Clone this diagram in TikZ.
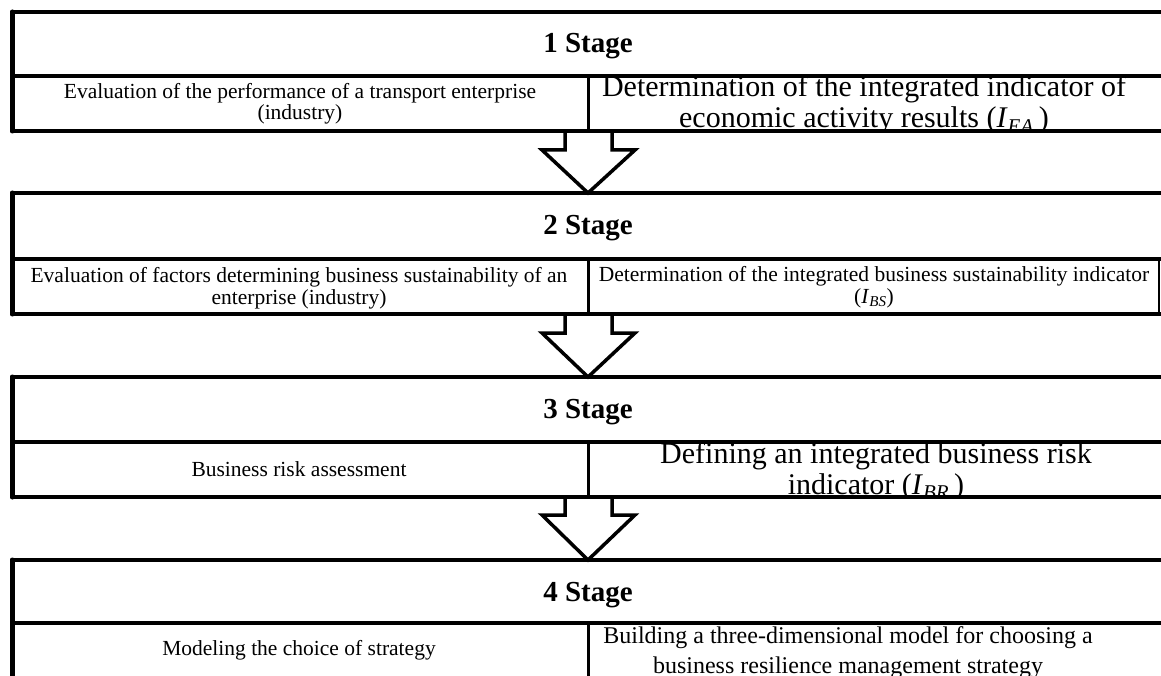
\documentclass[tikz,border=0pt]{standalone}
\usepackage{fontspec}
\setmainfont{Liberation Serif}
\newcommand{\ind}[1]{\textit{I}\textsubscript{\textit{#1}}}
\begin{document}
\begin{tikzpicture}[x=1pt,y=-1pt,
  frame/.style={line width=3.5pt, line join=round, line cap=round},
  leftedge/.style={line width=5pt, line cap=round},
  divider/.style={line width=3pt},
  thinedge/.style={line width=1.5pt},
  arrowshape/.style={line width=3.5pt, line join=miter},
  stagetitle/.style={anchor=base, inner sep=0pt, font=\fontsize{29}{30}\selectfont\bfseries},
  smalltext/.style={anchor=base, inner sep=0pt, font=\fontsize{21.5}{22}\selectfont},
  bigtext/.style={anchor=base, inner sep=0pt, font=\fontsize{30}{31}\selectfont},
  midtext/.style={anchor=base, inner sep=0pt, font=\fontsize{24}{25}\selectfont}]

\useasboundingbox (0,0) rectangle (1161,676);
\fill[white] (0,0) rectangle (1161,676);
\clip (0,0) rectangle (1161,676);

% ---------- Stage 1 ----------
\node[stagetitle] (t1) at (588,53) {1 Stage};
\node[smalltext] (a1) at (300,99) {Evaluation of the performance of a transport enterprise};
\node[smalltext] (a2) at (300,120) {(industry)};
\begin{scope}
  \clip (588,76) rectangle (1161,131);
  \node[bigtext] (b1) at (864,97) {Determination of the integrated indicator of};
  \node[bigtext] (b2) at (864,128) {economic activity results (\ind{EA}\,)};
\end{scope}
\draw[frame] (1170,12) -- (12,12);
\draw[frame] (12,76) -- (1170,76);
\draw[frame] (12,131) -- (1170,131);
\draw[leftedge] (12,12) -- (12,131);
\draw[divider] (588,76) -- (588,131);

% ---------- Stage 2 ----------
\node[stagetitle] (t2) at (588,235) {2 Stage};
\node[smalltext] (c1) at (299,282) {Evaluation of factors determining business sustainability of an};
\node[smalltext] (c2) at (299,304) {enterprise (industry)};
\node[smalltext] (d1) at (874,281) {Determination of the integrated business sustainability indicator};
\node[smalltext] (d2) at (874,303) {(\ind{BS})};
\draw[frame] (1170,193) -- (12,193);
\draw[frame] (12,259) -- (1170,259);
\draw[frame] (12,314) -- (1170,314);
\draw[leftedge] (12,193) -- (12,314);
\draw[divider] (588,259) -- (588,314);
\draw[thinedge] (1159,259) -- (1159,314);

% ---------- Stage 3 ----------
\node[stagetitle] (t3) at (588,418) {3 Stage};
\node[smalltext] (e1) at (299,476) {Business risk assessment};
\begin{scope}
  \clip (588,442) rectangle (1161,497);
  \node[bigtext] (f1) at (876,463) {Defining an integrated business risk};
  \node[bigtext] (f2) at (876,494) {indicator (\ind{BR}\,)};
\end{scope}
\draw[frame] (1170,377) -- (12,377);
\draw[frame] (12,442) -- (1170,442);
\draw[frame] (12,497) -- (1170,497);
\draw[leftedge] (12,377) -- (12,497);
\draw[divider] (588,442) -- (588,497);

% ---------- Stage 4 ----------
\node[stagetitle] (t4) at (588,601) {4 Stage};
\node[smalltext] (g1) at (299,655) {Modeling the choice of strategy};
\node[midtext] (h1) at (848,643) {Building a three-dimensional model for choosing a};
\node[midtext] (h2) at (848,673) {business resilience management strategy};
\draw[frame] (1170,560) -- (12,560);
\draw[frame] (12,623) -- (1170,623);
\draw[leftedge] (12,560) -- (12,700);
\draw[divider] (588,623) -- (588,700);

% ---------- Block arrows ----------
\draw[arrowshape] (565,131) -- (565,150) -- (542,150) -- (588,193) -- (635,150) -- (612,150) -- (612,131);
\draw[arrowshape] (565,314) -- (565,333) -- (542,333) -- (588,377) -- (635,333) -- (612,333) -- (612,314);
\draw[arrowshape] (565,497) -- (565,515) -- (542,515) -- (588,560) -- (635,515) -- (612,515) -- (612,497);
\end{tikzpicture}
\end{document}
